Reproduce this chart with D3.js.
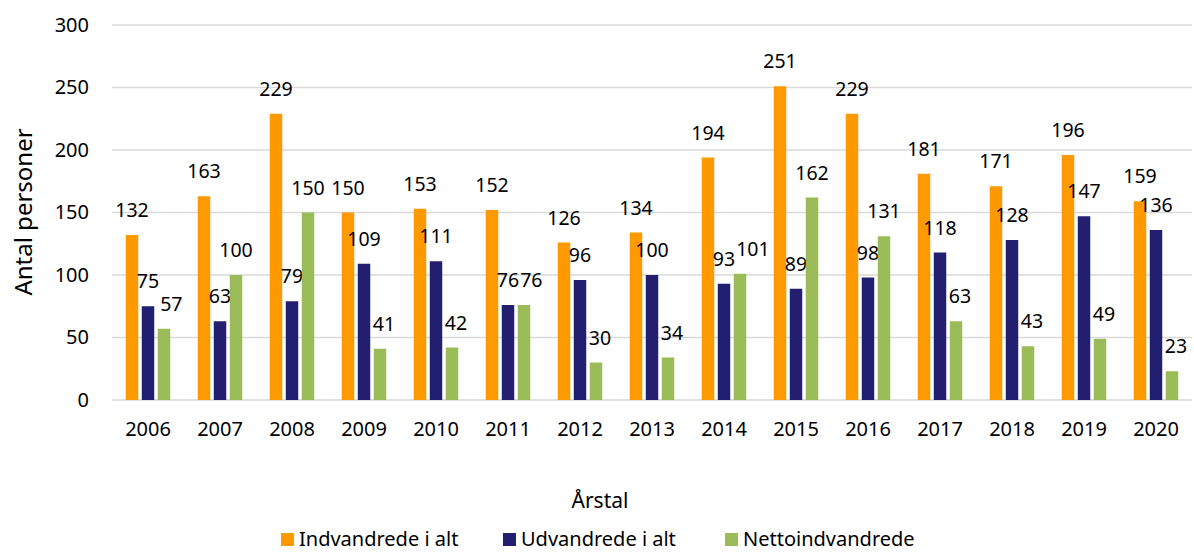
<!DOCTYPE html>
<html>
<head>
<meta charset="utf-8">
<script src="https://cdn.jsdelivr.net/npm/d3@7/dist/d3.min.js"></script>
<style>
  body { margin: 0; background: #fff; }
  text { font-family: "Noto Sans", "Open Sans", sans-serif; fill: #000; }
  .grid line { stroke: #d9d9d9; stroke-width: 1.5; }
</style>
</head>
<body>
<svg id="chart" width="1194" height="552"></svg>
<script>
// data
const years = ['2006', '2007', '2008', '2009', '2010', '2011', '2012', '2013', '2014', '2015', '2016', '2017', '2018', '2019', '2020'];
const seriesNames = ['Indvandrede i alt', 'Udvandrede i alt', 'Nettoindvandrede'];
const indvandrede = [132, 163, 229, 150, 153, 152, 126, 134, 194, 251, 229, 181, 171, 196, 159];
const udvandrede = [75, 63, 79, 109, 111, 76, 96, 100, 93, 89, 98, 118, 128, 147, 136];
const netto = [57, 100, 150, 41, 42, 76, 30, 34, 101, 162, 131, 63, 43, 49, 23];
const yTicks = [0, 50, 100, 150, 200, 250, 300];
const colors = ['#ff9900', '#221e70', '#9bbb59'];

const allSeries = [indvandrede, udvandrede, netto];

const svg = d3.select('#chart');

const margin = {top: 25, right: 2, bottom: 152, left: 112},
    width = +svg.attr('width') - margin.left - margin.right,
    height = +svg.attr('height') - margin.top - margin.bottom;

const g = svg.append('g')
  .attr('transform', 'translate(' + margin.left + ',' + margin.top + ')');

const x = d3.scaleBand()
  .domain(years)
  .range([0, width])
  .padding(0);

const xInner = d3.scaleBand()
  .domain(seriesNames)
  .range([-22.25, 22.25])
  .paddingInner(0.22)
  .paddingOuter(0);

const y = d3.scaleLinear()
  .domain([0, 300])
  .range([height, 0]);

// gridlines
g.append('g')
  .attr('class', 'grid')
  .selectAll('line')
  .data(yTicks)
  .enter()
  .append('line')
  .attr('x1', 0)
  .attr('x2', width)
  .attr('y1', function(d) { return y(d); })
  .attr('y2', function(d) { return y(d); });

// y axis labels
const yAxis = d3.axisLeft(y)
  .tickValues(yTicks)
  .tickSize(0)
  .tickPadding(23);

g.append('g')
  .attr('class', 'y axis')
  .call(yAxis)
  .call(function(sel) { sel.select('.domain').remove(); })
  .selectAll('text')
  .style('font-size', '20px');

// x axis labels
const xAxis = d3.axisBottom(x)
  .tickSize(0)
  .tickPadding(22);

g.append('g')
  .attr('class', 'x axis')
  .attr('transform', 'translate(0,' + height + ')')
  .call(xAxis)
  .call(function(sel) { sel.select('.domain').remove(); })
  .selectAll('text')
  .style('font-size', '20px');

const barX = function(name, yr) { return x(yr) + x.bandwidth() / 2 + xInner(name); };

// bars + labels
const labelGroups = [];
allSeries.forEach(function(values, si) {
  const name = seriesNames[si];
  const rows = years.map(function(yr, i) { return {year: yr, value: values[i]}; });

  g.append('g')
    .selectAll('rect')
    .data(rows)
    .enter()
    .append('rect')
    .attr('x', function(d) { return barX(name, d.year); })
    .attr('width', xInner.bandwidth())
    .attr('y', function(d) { return y(d.value); })
    .attr('height', function(d) { return height - y(d.value); })
    .attr('fill', colors[si]);

  const labels = g.append('g')
    .selectAll('text')
    .data(rows)
    .enter()
    .append('text')
    .attr('x', function(d) {
      let cx = barX(name, d.year) + xInner.bandwidth() / 2;
      // green two-digit labels sit a bit right of the bar
      if(si === 2 && d.value < 100) cx += 4;
      return cx;
    })
    .attr('y', function(d) { return y(d.value) - 18; })
    .attr('text-anchor', 'middle')
    .style('font-size', '19.5px')
    .text(function(d) { return d.value; });
  labelGroups.push(labels.nodes());
});

// push a label right if it collides with its left neighbour
years.forEach(function(yr, i) {
  for(let si = 1; si < labelGroups.length; si++) {
    const prev = labelGroups[si - 1][i].getBBox();
    const curNode = labelGroups[si][i];
    const cur = curNode.getBBox();
    const vOverlap = cur.y < prev.y + prev.height && prev.y < cur.y + cur.height;
    const gap = cur.x - (prev.x + prev.width);
    if(vOverlap && gap < 1) {
      curNode.setAttribute('x', +curNode.getAttribute('x') + (1 - gap));
    }
  }
});

// axis titles
svg.append('text')
  .attr('transform', 'translate(32,212) rotate(-90)')
  .attr('text-anchor', 'middle')
  .style('font-size', '24px')
  .text('Antal personer');

svg.append('text')
  .attr('x', 600)
  .attr('y', 508)
  .attr('text-anchor', 'middle')
  .style('font-size', '21px')
  .text('Årstal');

// legend
const legendX = [281, 503, 725];
const legend = svg.append('g');
seriesNames.forEach(function(name, i) {
  legend.append('rect')
    .attr('x', legendX[i])
    .attr('y', 533)
    .attr('width', 13)
    .attr('height', 13)
    .attr('fill', colors[i]);
  legend.append('text')
    .attr('x', legendX[i] + 18)
    .attr('y', 546)
    .style('font-size', '20px')
    .text(name);
});
</script>
</body>
</html>
